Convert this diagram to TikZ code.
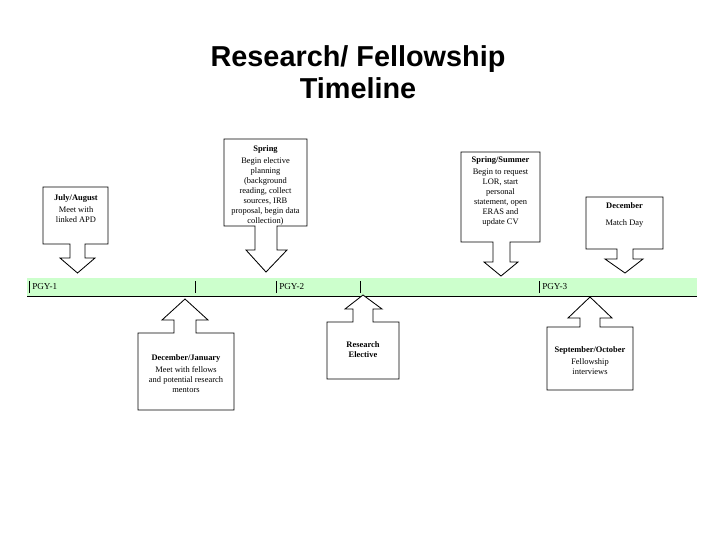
\documentclass[tikz,border=0pt]{standalone}
\usepackage{fontspec}
\setmainfont{Liberation Serif}
\setsansfont{Liberation Sans}
\usepackage{xcolor}
\usepackage{tikz}
\usetikzlibrary{positioning}
\definecolor{bandgreen}{RGB}{204,255,204}

\begin{document}
\begin{tikzpicture}[
    x=0.025cm, y=-0.025cm,
    callout/.style={draw=black, line width=0.6pt, fill=white, line join=miter},
    note/.style={align=center, inner sep=0pt, anchor=north, font=\fontsize{6}{7.1}\selectfont},
    lbl/.style={anchor=west, inner sep=0pt, font=\fontsize{6.5}{7.5}\selectfont},
    title/.style={align=center, inner sep=0pt, font=\sffamily\bfseries\fontsize{20.5}{23}\selectfont}
  ]
  \useasboundingbox[fill=white] (0,0) rectangle (720,540);
  \node[title] (head) at (358,72) {Research/ Fellowship\\Timeline};

  \fill[bandgreen] (27,278) rectangle (697,296);
  \draw[line width=0.6pt] (27,296) -- (697,296);
  \draw[line width=0.5pt] (29,281) -- (29,293);
  \draw[line width=0.5pt] (195,281) -- (195,293);
  \draw[line width=0.5pt] (276,281) -- (276,293);
  \draw[line width=0.5pt] (360,281) -- (360,293);
  \draw[line width=0.5pt] (539,281) -- (539,293);
  \node[lbl] (pgy1) at (32,287) {PGY-1};
  \node[lbl] (pgy2) at (279,287) {PGY-2};
  \node[lbl] (pgy3) at (542,287) {PGY-3};

  \draw[callout] (43,187) -- (108,187) -- (108,244) -- (85,244) -- (85,258) -- (95,258) -- (77.5,273)
    -- (60,258) -- (70,258) -- (70,244) -- (43,244) -- cycle;
  \draw[callout] (224,139) -- (307,139) -- (307,226) -- (277,226) -- (277,250) -- (287,250) -- (266,272)
    -- (246,250) -- (255,250) -- (255,226) -- (224,226) -- cycle;
  \draw[callout] (461,152) -- (540,152) -- (540,242) -- (510,242) -- (510,262) -- (518,262) -- (501,276)
    -- (484,262) -- (493,262) -- (493,242) -- (461,242) -- cycle;
  \draw[callout] (586,197) -- (663,197) -- (663,249) -- (633,249) -- (633,259) -- (643,259) -- (625,273)
    -- (605,259) -- (617,259) -- (617,249) -- (586,249) -- cycle;

  \draw[callout] (138,410) -- (138,333) -- (174,333) -- (174,320) -- (162,320) -- (185,299)
    -- (208,320) -- (196,320) -- (196,333) -- (234,333) -- (234,410) -- cycle;
  \draw[callout] (327,379) -- (327,322) -- (353,322) -- (353,309) -- (345,309) -- (363,295)
    -- (382,309) -- (373,309) -- (373,322) -- (399,322) -- (399,379) -- cycle;
  \draw[callout] (547,390) -- (547,327) -- (580,327) -- (580,318) -- (568,318) -- (590,297)
    -- (612,318) -- (600,318) -- (600,327) -- (633,327) -- (633,390) -- cycle;

  \node[note] (julaug) at (76,194) {\textbf{July/August}\\[2pt]Meet with\\linked APD};
  \node[note] (spring) at (265.5,145) {\textbf{Spring}\\[1.5pt]Begin elective\\planning\\(background\\reading, collect\\sources, IRB\\proposal, begin data\\collection)};
  \node[note] (sprsum) at (500.5,156) {\textbf{Spring/Summer}\\[2pt]Begin to request\\LOR, start\\personal\\statement, open\\ERAS and\\update CV};
  \node[note] (dec) at (624.5,202) {\textbf{December}\\[5pt]Match Day};
  \node[note] (decjan) at (186,354) {\textbf{December/January}\\[2pt]Meet with fellows\\and potential research\\mentors};
  \node[note] (elect) at (363,341) {\textbf{Research}\\\textbf{Elective}};
  \node[note] (sepoct) at (590,346) {\textbf{September/October}\\[2pt]Fellowship\\interviews};
\end{tikzpicture}
\end{document}
